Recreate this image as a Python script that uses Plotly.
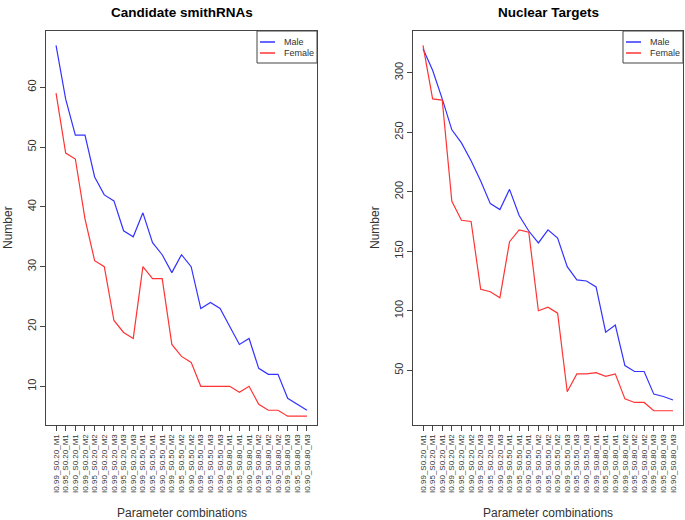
import plotly.graph_objects as go

combos = [
    "I0.99_S0.20_M1", "I0.95_S0.20_M1", "I0.90_S0.20_M1",
    "I0.99_S0.20_M2", "I0.95_S0.20_M2", "I0.90_S0.20_M2",
    "I0.99_S0.20_M3", "I0.95_S0.20_M3", "I0.90_S0.20_M3",
    "I0.99_S0.50_M1", "I0.95_S0.50_M1", "I0.90_S0.50_M1",
    "I0.99_S0.50_M2", "I0.95_S0.50_M2", "I0.90_S0.50_M2",
    "I0.99_S0.50_M3", "I0.95_S0.50_M3", "I0.90_S0.50_M3",
    "I0.99_S0.80_M1", "I0.95_S0.80_M1", "I0.90_S0.80_M1",
    "I0.99_S0.80_M2", "I0.95_S0.80_M2", "I0.90_S0.80_M2",
    "I0.99_S0.80_M3", "I0.95_S0.80_M3", "I0.90_S0.80_M3",
]

smith_male = [67, 58, 52, 52, 45, 42, 41, 36, 35, 39, 34, 32, 29, 32, 30,
              23, 24, 23, 20, 17, 18, 13, 12, 12, 8, 7, 6]
smith_female = [59, 49, 48, 38, 31, 30, 21, 19, 18, 30, 28, 28, 17, 15, 14,
                10, 10, 10, 10, 9, 10, 7, 6, 6, 5, 5, 5]

nuc_male = [320, 302, 278, 252, 241, 226, 209, 190, 185, 202, 180, 167, 157,
            168, 161, 137, 126, 125, 120, 82, 88, 54, 49, 49, 30, 28, 25]
nuc_female = [323, 278, 277, 192, 176, 175, 118, 116, 111, 158, 168, 166, 100,
              103, 98, 32, 47, 47, 48, 45, 47, 26, 23, 23, 16, 16, 16]

titles = ["Candidate smithRNAs", "Nuclear Targets"]
series_names = ["Male", "Female"]

BLUE = "#3333ff"
RED = "#ff3333"
COLORS = [BLUE, RED]
FONT = "Liberation Sans, Arial, sans-serif"
W, H = 685, 520

fig = go.Figure()

for xa, ya, vals in [("x", "y", [smith_male, smith_female]),
                     ("x2", "y2", [nuc_male, nuc_female])]:
    for name, col, v in zip(series_names, COLORS, vals):
        fig.add_trace(go.Scatter(x=combos, y=v, mode="lines", name=name,
                                 line=dict(color=col, width=1.2),
                                 xaxis=xa, yaxis=ya, showlegend=False))

L1, R1 = 46 / W, 317 / W
L2, R2 = 413 / W, 683 / W
B, T = 1 - 425 / H, 1 - 31 / H

xcommon = dict(type="category", range=[-1.04, 27.04], showline=True, mirror=True,
               linecolor="#444444", linewidth=1, ticks="outside", ticklen=5,
               tickcolor="#444444", tickangle=-90, showgrid=False, zeroline=False,
               tickmode="array", tickvals=combos, ticktext=combos,
               tickfont=dict(family=FONT, size=8, color="#333333"))
ycommon = dict(showline=True, mirror=True, linecolor="#444444", linewidth=1,
               ticks="outside", ticklen=5, tickcolor="#444444", tickangle=-90,
               showgrid=False, zeroline=False,
               tickfont=dict(family=FONT, size=11, color="#333333"))

fig.update_layout(
    width=W, height=H,
    margin=dict(l=0, r=0, t=0, b=0),
    paper_bgcolor="white", plot_bgcolor="white",
    showlegend=False,
    xaxis=dict(domain=[L1, R1], anchor="y", **xcommon),
    yaxis=dict(domain=[B, T], anchor="x", range=[3.53, 69.4],
               tickvals=[10, 20, 30, 40, 50, 60], **ycommon),
    xaxis2=dict(domain=[L2, R2], anchor="y2", **xcommon),
    yaxis2=dict(domain=[B, T], anchor="x2", range=[4.05, 335],
                tickvals=[50, 100, 150, 200, 250, 300], **ycommon),
)

annots = []
shapes = []
for cx, t in [((L1 + R1) / 2, titles[0]), ((L2 + R2) / 2, titles[1])]:
    annots.append(dict(text="<b>" + t + "</b>", x=cx, y=1 - 12 / H, xref="paper",
                       yref="paper", showarrow=False, xanchor="center",
                       yanchor="middle", font=dict(family=FONT, size=13.5, color="black")))
    annots.append(dict(text="Parameter combinations", x=cx, y=1 - 513 / H,
                       xref="paper", yref="paper", showarrow=False,
                       xanchor="center", yanchor="middle",
                       font=dict(family=FONT, size=12, color="#333333")))
for nx in [8, 375]:
    annots.append(dict(text="Number", x=nx / W, y=(B + T) / 2, xref="paper",
                       yref="paper", showarrow=False, textangle=-90,
                       xanchor="center", yanchor="middle",
                       font=dict(family=FONT, size=12, color="#333333")))

# legend boxes (top-right of each panel)
for right in [317, 683]:
    left = right - 60
    shapes.append(dict(type="rect", xref="paper", yref="paper",
                       x0=left / W, x1=right / W, y0=1 - 63 / H, y1=T,
                       line=dict(color="#444444", width=1), fillcolor="white"))
    for i, (name, col) in enumerate(zip(series_names, COLORS)):
        yy = 42 + i * 11
        shapes.append(dict(type="line", xref="paper", yref="paper",
                           x0=(left + 3) / W, x1=(left + 18) / W,
                           y0=1 - yy / H, y1=1 - yy / H,
                           line=dict(color=col, width=1.5)))
        annots.append(dict(text=name, x=(left + 25) / W, y=1 - yy / H,
                           xref="paper", yref="paper", showarrow=False,
                           xanchor="left", yanchor="middle",
                           font=dict(family=FONT, size=9, color="#333333")))

fig.update_layout(annotations=annots, shapes=shapes)

fig.write_html("out.html",
               config={"displayModeBar": False},
               post_script="document.body.style.margin='0';document.body.style.padding='0';")
